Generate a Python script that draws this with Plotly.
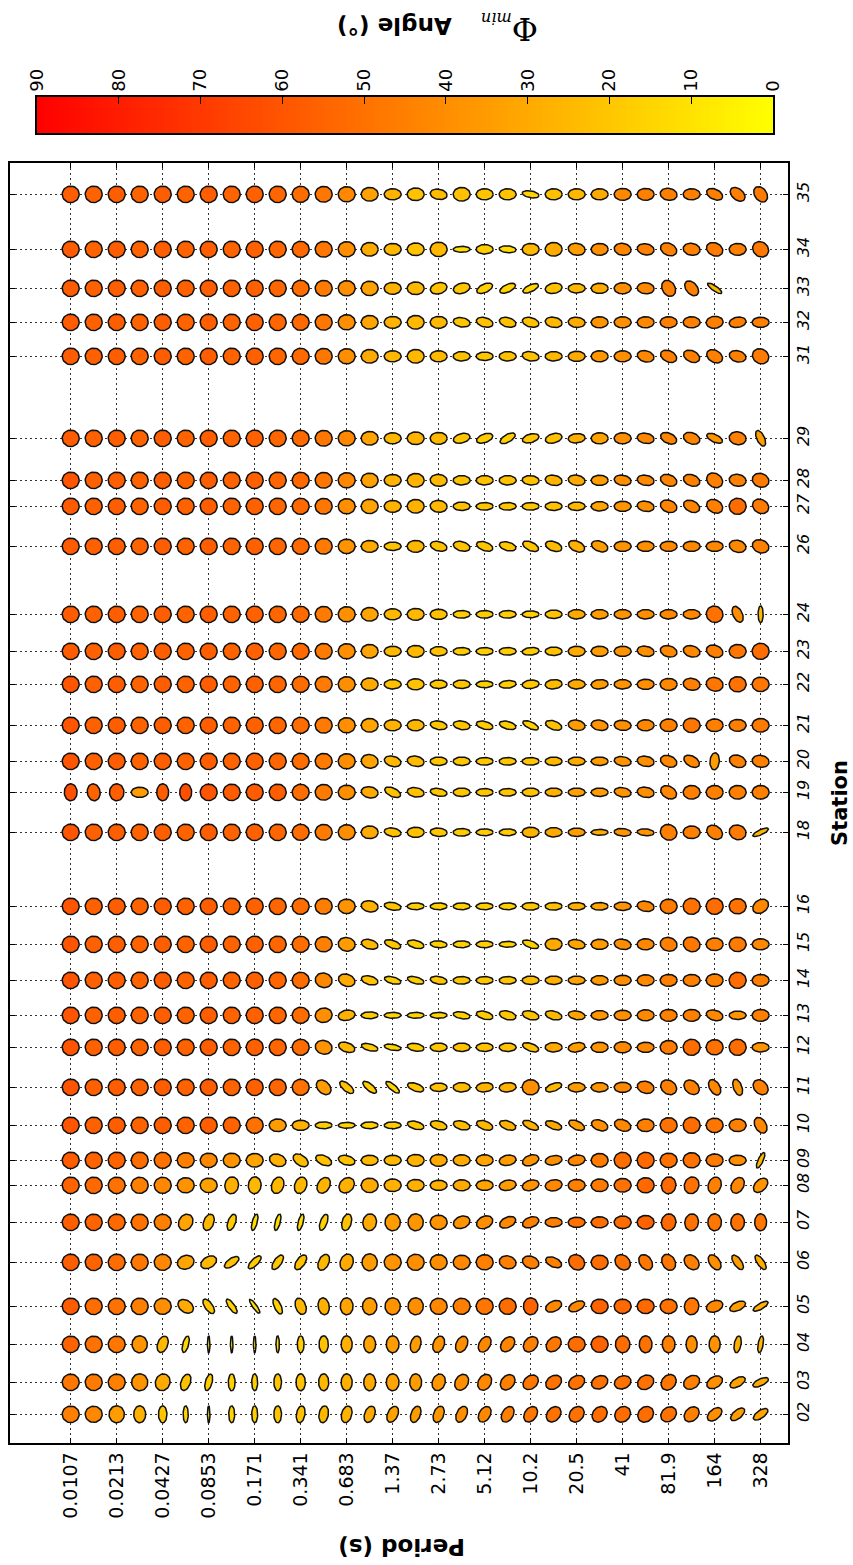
import math
import plotly.graph_objects as go

# ---------------------------------------------------------------------------
# Phase tensor pseudosection: stations along the profile, periods across.
# ---------------------------------------------------------------------------
STATIONS = ["02", "03", "04", "05", "06", "07", "08", "09", "10", "11", "12",
            "13", "14", "15", "16", "18", "19", "20", "21", "22", "23", "24",
            "26", "27", "28", "29", "31", "32", "33", "34", "35"]

# distance of each station along the profile (km)
STATION_KM = [0.0, 3.2, 7.0, 10.8, 15.2, 19.2, 22.9, 25.4, 28.9, 32.7, 36.7,
              39.9, 43.4, 47.0, 50.8, 58.2, 62.2, 65.3, 68.9, 73.0, 76.3, 80.0,
              86.8, 90.8, 93.4, 97.6, 105.8, 109.2, 112.6, 116.5, 122.0]

PERIODS = [0.0107, 0.0151, 0.0213, 0.0302, 0.0427, 0.0604, 0.0853, 0.121,
           0.171, 0.241, 0.341, 0.483, 0.683, 0.966, 1.37, 1.93, 2.73, 3.74,
           5.12, 7.24, 10.2, 14.5, 20.5, 29.0, 41.0, 57.9, 81.9, 116.0, 164.0,
           232.0, 328.0]

PERIOD_TICK_LABELS = ["0.0107", "0.0213", "0.0427", "0.0853", "0.171", "0.341",
                      "0.683", "1.37", "2.73", "5.12", "10.2", "20.5", "41",
                      "81.9", "164", "328"]

COLORBAR_TICKS = [0, 10, 20, 30, 40, 50, 60, 70, 80, 90]

# Phi_min (degrees); one row per station, one column per period
PHI_MIN = [
    [45, 42, 35, 28, 20, 15, 8, 15, 17, 20, 22, 25, 27, 30, 33, 35, 37, 40, 42, 45, 48, 50, 50, 52, 52, 52, 50, 45, 40, 35, 32],
    [48, 47, 45, 38, 30, 22, 18, 17, 17, 20, 22, 25, 28, 30, 32, 35, 37, 40, 42, 45, 48, 50, 50, 50, 50, 50, 48, 45, 40, 33, 30],
    [55, 50, 48, 38, 25, 15, 8, 8, 8, 10, 17, 22, 28, 32, 35, 35, 38, 40, 42, 43, 45, 48, 52, 55, 52, 50, 45, 40, 38, 28, 25],
    [58, 52, 50, 45, 40, 30, 20, 16, 12, 17, 25, 28, 32, 35, 38, 40, 42, 45, 48, 52, 55, 42, 42, 55, 53, 53, 50, 48, 42, 35, 28],
    [57, 55, 52, 48, 42, 32, 25, 22, 18, 20, 22, 25, 30, 35, 38, 40, 40, 42, 45, 45, 45, 45, 52, 52, 50, 48, 48, 45, 40, 35, 30],
    [57, 55, 53, 50, 45, 32, 25, 18, 12, 12, 12, 16, 22, 30, 35, 37, 38, 38, 40, 42, 45, 45, 50, 52, 52, 55, 53, 50, 48, 50, 48],
    [55, 53, 50, 45, 42, 38, 33, 28, 25, 25, 25, 27, 28, 30, 28, 28, 28, 30, 32, 35, 38, 42, 45, 47, 50, 53, 53, 50, 45, 42, 38],
    [58, 55, 55, 52, 50, 45, 42, 38, 32, 28, 24, 22, 22, 25, 25, 27, 30, 30, 32, 35, 38, 40, 42, 47, 52, 53, 50, 50, 47, 40, 25],
    [60, 56, 57, 55, 57, 55, 57, 55, 50, 35, 28, 18, 16, 17, 18, 20, 22, 24, 25, 27, 28, 30, 35, 40, 42, 45, 50, 52, 48, 45, 42],
    [60, 56, 57, 55, 57, 55, 57, 55, 56, 54, 50, 35, 22, 18, 16, 20, 22, 24, 27, 28, 40, 25, 35, 38, 42, 45, 45, 45, 42, 38, 45],
    [60, 56, 57, 55, 57, 55, 57, 55, 56, 54, 52, 38, 25, 18, 15, 18, 20, 22, 22, 22, 22, 30, 35, 38, 42, 42, 47, 52, 50, 52, 38],
    [60, 56, 57, 55, 57, 55, 57, 55, 56, 54, 52, 40, 28, 18, 15, 15, 15, 17, 18, 20, 22, 25, 32, 37, 40, 42, 45, 45, 42, 38, 45],
    [60, 56, 57, 55, 57, 55, 57, 55, 56, 54, 52, 42, 30, 22, 18, 18, 20, 20, 20, 20, 24, 28, 32, 36, 40, 42, 45, 45, 45, 52, 45],
    [60, 56, 57, 55, 57, 55, 57, 55, 56, 54, 52, 45, 35, 25, 20, 18, 17, 17, 17, 15, 17, 30, 32, 35, 40, 42, 45, 48, 45, 47, 42],
    [60, 56, 57, 55, 57, 55, 57, 55, 56, 54, 52, 46, 38, 28, 20, 18, 17, 17, 17, 17, 20, 22, 28, 32, 38, 42, 47, 50, 52, 50, 42],
    [60, 56, 57, 55, 57, 55, 57, 55, 56, 54, 52, 47, 40, 30, 22, 22, 20, 18, 18, 18, 27, 30, 35, 30, 38, 38, 45, 45, 45, 47, 25],
    [62, 55, 57, 35, 58, 62, 60, 58, 58, 57, 52, 47, 40, 30, 22, 22, 20, 20, 20, 20, 22, 28, 33, 35, 38, 40, 42, 45, 45, 45, 45],
    [60, 56, 57, 55, 57, 55, 57, 55, 56, 54, 52, 47, 40, 32, 25, 24, 20, 20, 20, 20, 20, 25, 30, 35, 38, 40, 42, 42, 35, 45, 45],
    [60, 56, 57, 55, 57, 55, 57, 55, 56, 54, 52, 47, 40, 32, 27, 25, 20, 20, 18, 18, 17, 22, 35, 38, 40, 42, 45, 48, 45, 45, 47],
    [60, 56, 57, 55, 57, 55, 57, 55, 56, 54, 52, 47, 40, 30, 22, 22, 20, 20, 17, 18, 20, 24, 30, 35, 38, 40, 42, 45, 48, 50, 48],
    [58, 56, 57, 55, 57, 55, 57, 55, 56, 54, 53, 47, 40, 32, 25, 25, 22, 18, 18, 18, 18, 22, 30, 35, 38, 40, 42, 42, 45, 48, 52],
    [58, 56, 57, 55, 57, 55, 57, 55, 56, 54, 53, 47, 40, 32, 25, 25, 22, 18, 18, 18, 17, 22, 30, 35, 38, 40, 42, 42, 50, 40, 25],
    [58, 56, 57, 55, 57, 55, 57, 55, 56, 54, 53, 47, 38, 30, 22, 25, 22, 22, 20, 20, 20, 24, 28, 35, 38, 40, 42, 42, 42, 42, 45],
    [58, 56, 57, 55, 57, 55, 57, 55, 56, 54, 53, 48, 40, 32, 27, 27, 25, 22, 20, 20, 20, 22, 25, 32, 37, 40, 43, 43, 45, 52, 47],
    [60, 56, 57, 55, 57, 55, 57, 55, 56, 54, 53, 48, 42, 33, 27, 27, 25, 22, 22, 22, 22, 27, 30, 35, 40, 42, 43, 45, 45, 45, 47],
    [58, 56, 57, 55, 57, 55, 57, 55, 56, 54, 53, 48, 42, 32, 25, 27, 25, 20, 18, 17, 20, 22, 28, 33, 40, 42, 43, 43, 38, 45, 35],
    [58, 56, 57, 55, 57, 55, 57, 55, 56, 54, 53, 48, 40, 30, 25, 25, 25, 22, 20, 22, 22, 25, 30, 37, 40, 42, 45, 45, 45, 45, 47],
    [58, 56, 57, 55, 57, 55, 57, 55, 56, 54, 53, 48, 40, 32, 27, 25, 25, 20, 22, 22, 22, 25, 30, 38, 40, 42, 45, 45, 45, 45, 45],
    [58, 56, 57, 56, 57, 56, 57, 56, 56, 54, 52, 47, 40, 33, 27, 25, 22, 20, 17, 16, 15, 22, 25, 30, 40, 42, 45, 45, 25, None, None],
    [58, 55, 57, 55, 57, 55, 57, 55, 56, 54, 53, 48, 40, 30, 25, 22, 25, 12, 18, 13, 25, 30, 35, 40, 43, 45, 45, 45, 47, 45, 48],
    [57, 55, 57, 55, 57, 55, 57, 55, 56, 54, 52, 48, 42, 33, 27, 22, 24, 22, 21, 21, 16, 22, 25, 30, 42, 45, 45, 45, 45, 46, 47],
]

# minor / major axis ratio (Phi_min / Phi_max)
ELLIPTICITY = [
    [.97, .95, .9, .7, .5, .3, .15, .35, .35, .45, .5, .55, .6, .6, .6, .55, .6, .6, .65, .65, .7, .75, .8, .8, .85, .85, .8, .75, .6, .5, .45],
    [.97, .97, .97, .95, .85, .55, .4, .4, .35, .45, .55, .6, .65, .7, .75, .7, .75, .75, .75, .75, .75, .75, .75, .75, .75, .8, .8, .75, .65, .5, .4],
    [.97, .97, .97, .9, .6, .35, .15, .15, .15, .2, .4, .55, .65, .7, .75, .6, .65, .65, .65, .7, .75, .75, .9, .95, .85, .75, .75, .65, .65, .4, .3],
    [.97, .97, .97, .97, .95, .7, .45, .35, .25, .4, .6, .65, .75, .85, .9, .9, .95, .95, .95, .95, .85, .6, .55, .85, .85, .85, .85, .85, .65, .5, .35],
    [.97, .97, .97, .97, .95, .8, .65, .45, .4, .45, .5, .6, .75, .9, .95, .95, .9, .85, .9, .75, .7, .55, .85, .85, .8, .7, .75, .75, .6, .45, .4],
    [.97, .97, .97, .97, .95, .8, .6, .45, .3, .3, .3, .4, .55, .8, .9, .9, .85, .7, .7, .6, .6, .55, .6, .65, .75, .8, .85, .8, .8, .8, .7],
    [.97, .97, .97, .95, .95, .9, .85, .8, .75, .7, .7, .7, .8, .85, .75, .7, .6, .65, .6, .6, .6, .65, .7, .75, .8, .9, .85, .85, .75, .7, .65],
    [.97, .97, .97, .97, .95, .9, .85, .85, .8, .7, .6, .55, .55, .6, .6, .7, .7, .65, .65, .6, .6, .55, .6, .8, .95, .95, .85, .9, .75, .6, .3],
    [.97, .97, .97, .97, .97, .97, .97, .97, .95, .75, .6, .4, .35, .4, .4, .45, .5, .5, .5, .5, .45, .45, .5, .6, .65, .75, .9, .95, .85, .75, .65],
    [.97, .97, .97, .97, .97, .97, .97, .97, .97, .97, .95, .7, .45, .4, .35, .45, .5, .55, .55, .55, .9, .45, .55, .55, .6, .7, .8, .75, .6, .5, .75],
    [.97, .97, .97, .97, .97, .97, .97, .97, .97, .97, .95, .8, .55, .4, .35, .45, .5, .5, .5, .5, .45, .55, .55, .6, .65, .6, .8, .95, .9, .95, .55],
    [.97, .97, .97, .97, .97, .97, .97, .97, .97, .97, .95, .85, .6, .4, .35, .35, .35, .4, .45, .5, .5, .5, .5, .55, .6, .65, .7, .7, .6, .5, .7],
    [.97, .97, .97, .97, .97, .97, .97, .97, .97, .97, .95, .85, .7, .5, .4, .4, .45, .45, .45, .45, .5, .5, .5, .55, .6, .65, .7, .7, .75, .95, .7],
    [.97, .97, .97, .97, .97, .97, .97, .97, .97, .97, .95, .9, .8, .55, .45, .45, .4, .4, .4, .35, .4, .7, .55, .6, .6, .65, .8, .85, .75, .85, .65],
    [.97, .97, .97, .97, .97, .97, .97, .97, .97, .97, .95, .93, .85, .65, .45, .4, .4, .4, .4, .4, .45, .45, .45, .45, .5, .6, .85, .95, .95, .9, .75],
    [.97, .97, .97, .97, .97, .97, .97, .97, .97, .97, .95, .93, .9, .75, .5, .6, .5, .45, .4, .4, .6, .55, .5, .35, .45, .4, .9, .75, .75, .85, .3],
    [.75, .75, .85, .6, .7, .7, .97, .97, .97, .97, .95, .93, .85, .65, .5, .55, .45, .5, .45, .45, .5, .5, .5, .5, .55, .6, .7, .8, .8, .8, .8],
    [.97, .97, .97, .97, .97, .97, .97, .97, .97, .97, .95, .93, .9, .8, .6, .6, .5, .5, .45, .45, .45, .5, .5, .5, .55, .6, .65, .6, .55, .7, .7],
    [.97, .97, .97, .97, .97, .97, .97, .97, .97, .97, .95, .93, .9, .8, .65, .65, .5, .5, .45, .45, .4, .5, .6, .6, .6, .65, .75, .85, .75, .7, .8],
    [.97, .97, .97, .97, .97, .97, .97, .97, .97, .97, .95, .93, .9, .75, .55, .65, .5, .5, .4, .45, .5, .55, .55, .55, .55, .6, .7, .7, .8, .9, .85],
    [.97, .97, .97, .97, .97, .97, .97, .97, .97, .97, .95, .93, .9, .8, .6, .7, .55, .45, .45, .45, .45, .5, .6, .6, .6, .6, .65, .65, .7, .8, .95],
    [.97, .97, .97, .97, .97, .97, .97, .97, .97, .97, .95, .93, .9, .8, .65, .7, .6, .45, .45, .45, .4, .5, .55, .55, .55, .55, .55, .55, .95, .55, .3],
    [.97, .97, .97, .97, .97, .97, .97, .97, .97, .97, .95, .93, .85, .7, .5, .7, .55, .55, .5, .5, .5, .55, .6, .6, .6, .6, .6, .6, .6, .7, .75],
    [.97, .97, .97, .97, .97, .97, .97, .97, .97, .97, .95, .93, .9, .85, .7, .8, .7, .5, .45, .45, .45, .5, .5, .55, .6, .6, .7, .65, .75, .95, .8],
    [.97, .97, .97, .97, .97, .97, .97, .97, .97, .97, .95, .93, .9, .85, .7, .8, .7, .55, .55, .55, .55, .6, .6, .6, .6, .6, .65, .65, .8, .7, .8],
    [.97, .97, .97, .97, .97, .97, .97, .97, .97, .97, .95, .93, .9, .8, .65, .75, .7, .55, .5, .45, .5, .55, .55, .65, .65, .6, .6, .65, .45, .75, .45],
    [.97, .97, .97, .97, .97, .97, .97, .97, .97, .97, .95, .93, .9, .8, .65, .8, .65, .55, .5, .55, .55, .55, .6, .65, .65, .65, .65, .65, .7, .65, .85],
    [.97, .97, .97, .97, .97, .97, .97, .97, .97, .97, .95, .93, .9, .8, .7, .8, .7, .55, .55, .55, .55, .6, .6, .65, .65, .65, .65, .65, .7, .6, .6],
    [.97, .97, .97, .97, .97, .97, .97, .97, .97, .97, .95, .93, .9, .85, .7, .75, .65, .6, .5, .45, .4, .6, .55, .6, .65, .65, .75, .65, .3, None, None],
    [.97, .97, .97, .97, .97, .97, .97, .97, .97, .97, .95, .93, .9, .8, .7, .75, .85, .35, .55, .4, .7, .8, .7, .7, .7, .65, .7, .7, .75, .7, .85],
    [.97, .97, .97, .97, .97, .97, .97, .97, .97, .97, .95, .93, .9, .8, .65, .75, .6, .8, .65, .65, .4, .65, .65, .65, .7, .7, .7, .65, .6, .65, .7],
]

# direction of the major axis, degrees counter-clockwise from the period axis
AZIMUTH = [
    [0, 0, 90, 90, 90, 90, 90, 90, 90, 90, 80, 80, 75, 70, 65, 70, 70, 65, 60, 60, 55, 50, 50, 50, 45, 45, 40, 45, 40, 40, 35],
    [0, 0, 0, 90, 70, 70, 75, 90, 90, 90, 90, 90, 90, 90, 90, 90, 70, 60, 60, 50, 40, 35, 30, 25, 20, 30, 50, 30, 30, 30, 25],
    [0, 0, 0, 90, 70, 75, 90, 90, 90, 90, 90, 90, 90, 90, 90, 75, 70, 65, 60, 50, 50, 45, 0, 0, 90, 90, 90, 90, 90, 80, 80],
    [0, 0, 0, 0, 0, -35, -55, -55, -55, -65, -70, -80, 90, 90, 90, 90, 0, 0, 0, 0, 90, 25, 25, 0, 0, 0, 0, 80, 20, 25, 30],
    [0, 0, 0, 0, 0, 20, 30, 35, 45, 55, 55, 65, 70, 90, 0, 0, 0, 0, 0, -15, -20, -25, -40, 0, -45, -55, -60, -45, -55, -55, -55],
    [0, 0, 0, 0, 0, 60, 70, 70, 75, 75, 75, 70, 75, 80, 90, 90, 0, 20, 25, 25, 20, 0, 0, 0, 0, 0, 80, 80, 90, 90, 90],
    [0, 0, 0, 0, 0, 0, 0, 80, 85, 70, 70, 60, 45, 0, 0, 0, 0, 0, 0, 10, 15, 10, 0, 0, 0, 0, 80, 70, 70, 60, 45],
    [0, 0, 0, 0, 0, 0, 0, 0, 0, -20, -35, -25, -15, 0, 0, 0, 0, 0, 0, 10, 20, 10, 10, 0, 0, 0, 0, 0, 0, 0, 65],
    [0, 0, 0, 0, 0, 0, 0, 0, 0, 0, 0, 0, 0, 0, 0, -15, -15, -15, -20, -20, -25, -20, -25, -20, -20, 0, 0, 0, 0, 0, -60],
    [0, 0, 0, 0, 0, 0, 0, 0, 0, 0, 0, -45, -40, -40, -40, -20, 0, 0, 5, 5, 0, 20, 0, 0, 0, -15, -35, -40, -60, -70, -45],
    [0, 0, 0, 0, 0, 0, 0, 0, 0, 0, 0, -15, -20, -15, -10, -10, 0, 0, 0, 0, -20, 0, 10, 0, 0, 0, 0, 0, 0, 0, 0],
    [0, 0, 0, 0, 0, 0, 0, 0, 0, 0, 0, 10, 10, 0, 0, 0, 0, -10, -15, -15, -15, -15, -10, 0, 0, 0, 0, 0, -15, 0, 0],
    [0, 0, 0, 0, 0, 0, 0, 0, 0, 0, 0, -15, -20, -15, -15, -15, -10, 0, 0, 0, 0, 0, 0, 0, 0, 0, 0, 0, 0, 0, 0],
    [0, 0, 0, 0, 0, 0, 0, 0, 0, 0, 0, 0, -10, -15, -20, -15, -5, 0, 0, 0, -20, 0, -10, 0, -10, 0, -15, -20, 0, 0, 0],
    [0, 0, 0, 0, 0, 0, 0, 0, 0, 0, 0, 0, 0, -10, -10, 0, 0, 0, 0, 0, 0, 0, 0, 0, 0, -10, 0, 0, 0, 0, 35],
    [0, 0, 0, 0, 0, 0, 0, 0, 0, 0, 0, 0, 0, 0, -10, 0, -5, 0, 0, 0, 0, 0, 0, 0, -5, -5, -30, 0, -35, -20, 25],
    [90, 100, 90, 0, 90, 90, 0, 0, 0, 0, 0, 0, 0, -10, -25, -10, -10, 0, 0, 0, 0, 0, 0, 0, -10, -10, -30, 0, 0, 0, 0],
    [0, 0, 0, 0, 0, 0, 0, 0, 0, 0, 0, 0, 0, -10, -15, -10, 0, 0, 0, 0, 0, 0, 0, 0, -10, -10, -20, -30, 85, -20, -10],
    [0, 0, 0, 0, 0, 0, 0, 0, 0, 0, 0, 0, 0, 0, 0, 0, -10, -10, -15, -15, -25, -20, -10, -10, -5, 0, 0, 0, 0, 0, 0],
    [0, 0, 0, 0, 0, 0, 0, 0, 0, 0, 0, 0, 0, 0, 0, 0, 0, 0, 0, 5, 5, 5, 0, 5, 0, 0, 0, -10, -15, 0, 0],
    [0, 0, 0, 0, 0, 0, 0, 0, 0, 0, 0, 0, 0, 0, 0, 0, 0, 0, 0, 0, 5, 0, 0, 0, 0, -10, -15, -15, -20, 0, 0],
    [0, 0, 0, 0, 0, 0, 0, 0, 0, 0, 0, 0, 0, 0, 0, 0, 0, 0, 0, 0, 0, 0, 0, 0, 0, 0, 0, 0, -40, -65, 90],
    [0, 0, 0, 0, 0, 0, 0, 0, 0, 0, 0, 0, 0, 0, 0, 0, -15, -15, -20, -15, -25, -20, -25, -20, 0, 0, 0, 0, 0, -15, -20],
    [0, 0, 0, 0, 0, 0, 0, 0, 0, 0, 0, 0, 0, 0, 0, 0, -5, 0, 0, 0, 0, 0, 0, 0, 0, -10, -20, -25, -30, 0, -30],
    [0, 0, 0, 0, 0, 0, 0, 0, 0, 0, 0, 0, 0, 0, 0, 0, -5, 0, 0, 0, -5, -10, -10, 0, -10, -10, -20, -20, -35, -10, -20],
    [0, 0, 0, 0, 0, 0, 0, 0, 0, 0, 0, 0, 0, 0, 0, 0, 0, 15, 20, 30, 15, 15, 5, 0, 0, -10, -25, -20, -25, -10, -65],
    [0, 0, 0, 0, 0, 0, 0, 0, 0, 0, 0, 0, 0, 0, 0, 0, 0, 0, 0, 0, -10, 0, 0, 0, 0, -15, -25, -25, -30, -15, -30],
    [0, 0, 0, 0, 0, 0, 0, 0, 0, 0, 0, 0, 0, 0, 0, 0, 0, -10, -15, -15, -15, -10, -5, 0, 0, 0, 0, 0, 5, 10, 0],
    [0, 0, 0, 0, 0, 0, 0, 0, 0, 0, 0, 0, 0, 0, 0, 0, 15, 15, 25, 25, 25, 10, 0, 0, 0, -5, -60, -50, -35, 0, 0],
    [0, 0, 0, 0, 0, 0, 0, 0, 0, 0, 0, 0, 0, 0, 0, 0, 0, 0, 0, -5, 0, 0, -10, 0, -10, -10, -25, -10, -25, 0, -40],
    [0, 0, 0, 0, 0, 0, 0, 0, 0, 0, 0, 0, 0, 0, 0, 0, -10, 0, 0, 0, -10, 0, 0, 0, 0, 0, -10, 0, -25, -40, -55],
]

for name, grid in (("PHI_MIN", PHI_MIN), ("ELLIPTICITY", ELLIPTICITY), ("AZIMUTH", AZIMUTH)):
    assert len(grid) == len(STATIONS), name
    for row in grid:
        assert len(row) == len(PERIODS), name

# ---------------------------------------------------------------------------
# Figure geometry (pixels)
# ---------------------------------------------------------------------------
W, H = 853, 1565
M_L, M_R, M_T, M_B = 10, 65, 0, 122
PAPER_W = W - M_L - M_R
PAPER_H = H - M_T - M_B
PLOT_TOP = 163                    # top edge of the pseudosection frame
CBAR_LEFT, CBAR_RIGHT = 37, 773   # colour bar extent
CBAR_TOP, CBAR_BOTTOM = 97, 133
X_RANGE = [-2.64, 31.19]          # period index
Y_RANGE = [-2.87, 125.13]         # km along profile
ELLIPSE_PX = 17.0                 # major-axis length on screen
FONT = "DejaVu Sans"


def px_x(px):
    return (px - M_L) / PAPER_W


def px_y(py):
    return (H - M_B - py) / PAPER_H


plot_w = PAPER_W
plot_h = H - M_B - PLOT_TOP
x_px = plot_w / (X_RANGE[1] - X_RANGE[0])   # screen pixels per period step
y_px = plot_h / (Y_RANGE[1] - Y_RANGE[0])   # screen pixels per km

CSCALE = [[0, "rgb(255,255,0)"], [1, "rgb(255,0,0)"]]


def phi_color(v):
    # yellow (0 deg) -> red (90 deg)
    g = round(255 * (1 - v / 90.0))
    return f"rgb(255,{g},0)"


# Build ellipse outlines, grouped by colour so each group is one filled trace
groups = {}
centre_x, centre_y, centre_txt = [], [], []
N_PTS = 40
for si, y0 in enumerate(STATION_KM):
    for pi, period in enumerate(PERIODS):
        v = PHI_MIN[si][pi]
        if v is None:
            continue
        a = ELLIPSE_PX / 2.0
        b = a * ELLIPTICITY[si][pi]
        th = math.radians(AZIMUTH[si][pi])
        xs, ys = [], []
        for k in range(N_PTS + 1):
            t = 2 * math.pi * k / N_PTS
            dx = a * math.cos(t) * math.cos(th) - b * math.sin(t) * math.sin(th)
            dy = a * math.cos(t) * math.sin(th) + b * math.sin(t) * math.cos(th)
            xs.append(pi + dx / x_px)
            ys.append(y0 + dy / y_px)
        key = int(round(v))
        gx, gy = groups.setdefault(key, ([], []))
        gx.extend(xs + [None])
        gy.extend(ys + [None])
        centre_x.append(pi)
        centre_y.append(y0)
        centre_txt.append(f"Station {STATIONS[si]}<br>T = {period} s<br>Φmin = {v}°")

fig = go.Figure()
for key in sorted(groups):
    gx, gy = groups[key]
    fig.add_trace(go.Scatter(
        x=gx, y=gy, mode="lines", fill="toself",
        fillcolor=phi_color(key),
        line=dict(color="#111111", width=1.5),
        hoverinfo="skip", showlegend=False,
        xaxis="x", yaxis="y",
    ))

# invisible centres carry hover text
fig.add_trace(go.Scatter(
    x=centre_x, y=centre_y, mode="markers",
    marker=dict(size=14, opacity=0),
    text=centre_txt, hoverinfo="text", showlegend=False,
    xaxis="x", yaxis="y",
))

# colour bar drawn as a one-row heat map on its own axes
cb_levels = [i * 0.25 for i in range(361)]
fig.add_trace(go.Heatmap(
    x=cb_levels, y=[0], z=[cb_levels],
    zmin=0, zmax=90, colorscale=CSCALE, showscale=False,
    hoverinfo="skip", xaxis="x2", yaxis="y2",
))

grid_style = dict(showgrid=True, gridcolor="#333333", gridwidth=1, griddash="2px,3px")

fig.update_layout(
    width=W, height=H,
    margin=dict(l=M_L, r=M_R, t=M_T, b=M_B),
    paper_bgcolor="white", plot_bgcolor="white",
    font=dict(family=FONT, color="black"),
    xaxis=dict(
        domain=[0, 1], anchor="y",
        range=X_RANGE,
        tickmode="array",
        tickvals=list(range(0, len(PERIODS), 2)),
        ticktext=PERIOD_TICK_LABELS,
        tickangle=-90,
        tickfont=dict(family=FONT, size=19),
        ticks="inside", ticklen=5, tickcolor="black",
        showline=True, linecolor="black", linewidth=1.5, mirror="ticks",
        zeroline=False, layer="above traces", automargin=False,
        **grid_style,
    ),
    yaxis=dict(
        domain=[0, px_y(PLOT_TOP)], anchor="x",
        range=Y_RANGE,
        tickmode="array",
        tickvals=STATION_KM,
        ticktext=STATIONS,
        side="right",
        tickangle=-90,
        tickfont=dict(family=FONT, size=16, style="italic"),
        ticks="inside", ticklen=5, tickcolor="black",
        showline=True, linecolor="black", linewidth=1.5, mirror="ticks",
        zeroline=False, layer="above traces", automargin=False,
        title=dict(text="<b>Station</b>", font=dict(family=FONT, size=21), standoff=20),
        **grid_style,
    ),
    xaxis2=dict(
        domain=[px_x(CBAR_LEFT), px_x(CBAR_RIGHT)], anchor="y2",
        range=[90, 0],
        side="top",
        tickmode="array", tickvals=COLORBAR_TICKS,
        ticktext=[str(t) for t in COLORBAR_TICKS],
        tickangle=-90,
        tickfont=dict(family=FONT, size=18),
        ticks="inside", ticklen=7, tickcolor="black", tickwidth=1,
        showline=True, linecolor="black", linewidth=1.5, mirror=True,
        showgrid=False, zeroline=False, fixedrange=True, automargin=False,
    ),
    yaxis2=dict(
        domain=[px_y(CBAR_BOTTOM), px_y(CBAR_TOP)], anchor="x2",
        range=[-0.5, 0.5],
        showticklabels=False, ticks="",
        showline=True, linecolor="black", linewidth=1.5, mirror=True,
        showgrid=False, zeroline=False, fixedrange=True, automargin=False,
    ),
    annotations=[
        dict(
            text="<span style='font-family:DejaVu Serif;font-size:32px'>Φ</span>"
                 "<span style='font-family:DejaVu Serif;font-size:23px'><sub><i>min</i></sub></span>"
                 "    <b>Angle (°)</b>",
            xref="paper", yref="paper",
            x=px_x(438), y=px_y(28),
            xanchor="center", yanchor="middle",
            textangle=180, showarrow=False,
            font=dict(family=FONT, size=23, color="black"),
        ),
        dict(
            text="<b>Period (s)</b>",
            xref="paper", yref="paper",
            x=px_x(402), y=px_y(1547),
            xanchor="center", yanchor="middle",
            textangle=180, showarrow=False,
            font=dict(family=FONT, size=23, color="black"),
        ),
    ],
)

fig.write_html("out.html")
